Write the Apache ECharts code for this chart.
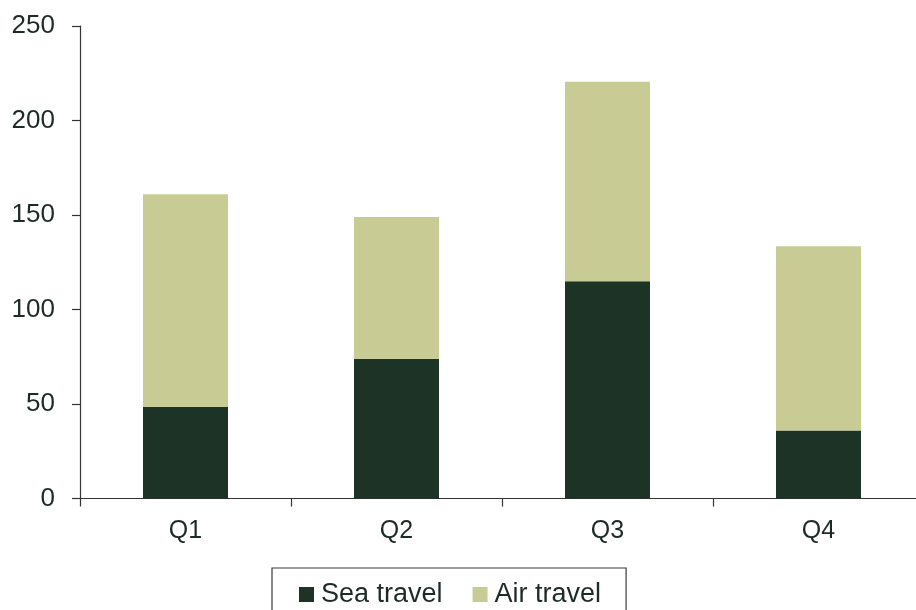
<!DOCTYPE html>
<html>
<head>
<meta charset="utf-8">
<script src="https://cdn.jsdelivr.net/npm/echarts@6/dist/echarts.min.js"></script>
<style>
html,body{margin:0;padding:0;background:#fff;overflow:hidden;width:916px;height:610px;}
#c{width:924px;height:610px;}
</style>
</head>
<body>
<div id="c"></div>
<script>
var categories = ['Q1', 'Q2', 'Q3', 'Q4'];
var seaTravel = [48.5, 74, 115, 36];
var airTravel = [112.5, 75, 105.5, 97.5];
var yTicks = [0, 50, 100, 150, 200, 250];

var chart = echarts.init(document.getElementById('c'), null, {renderer: 'canvas'});
var txt = '#1d2b26';
var font = 'Liberation Sans, Arial, sans-serif';
chart.setOption({
  animation: false,
  backgroundColor: '#ffffff',
  grid: {left: 80, right: 0, top: 26, bottom: 111.5, containLabel: false},
  legend: {
    data: ['Sea travel', 'Air travel'],
    left: 272, top: 568,
    borderColor: '#3a3a3a', borderWidth: 1.2,
    padding: [13, 25, 20, 27],
    itemGap: 30,
    itemWidth: 15, itemHeight: 15,
    icon: 'rect',
    textStyle: {fontFamily: font, fontSize: 27, color: txt, padding: [0, 0, 0, 2]}
  },
  xAxis: {
    type: 'category',
    data: categories,
    axisLine: {lineStyle: {color: '#333', width: 1.2}},
    axisTick: {show: true, length: 8, lineStyle: {color: '#333', width: 1.2}},
    axisLabel: {fontFamily: font, fontSize: 25, color: txt, margin: 20}
  },
  yAxis: {
    type: 'value',
    min: 0, max: 250, interval: 50,
    axisLine: {show: true, lineStyle: {color: '#333', width: 1.2}},
    axisTick: {show: true, length: 8, lineStyle: {color: '#333', width: 1.2}},
    splitLine: {show: false},
    axisLabel: {fontFamily: font, fontSize: 26, color: txt, margin: 25,
      formatter: function (v) { return yTicks.indexOf(v) >= 0 ? String(v) : ''; }}
  },
  series: [
    {name: 'Sea travel', type: 'bar', stack: 'total', data: seaTravel, barWidth: 85,
     itemStyle: {color: '#1c3326'}},
    {name: 'Air travel', type: 'bar', stack: 'total', data: airTravel, barWidth: 85,
     itemStyle: {color: '#c8cc94'}}
  ]
});
</script>
</body>
</html>
